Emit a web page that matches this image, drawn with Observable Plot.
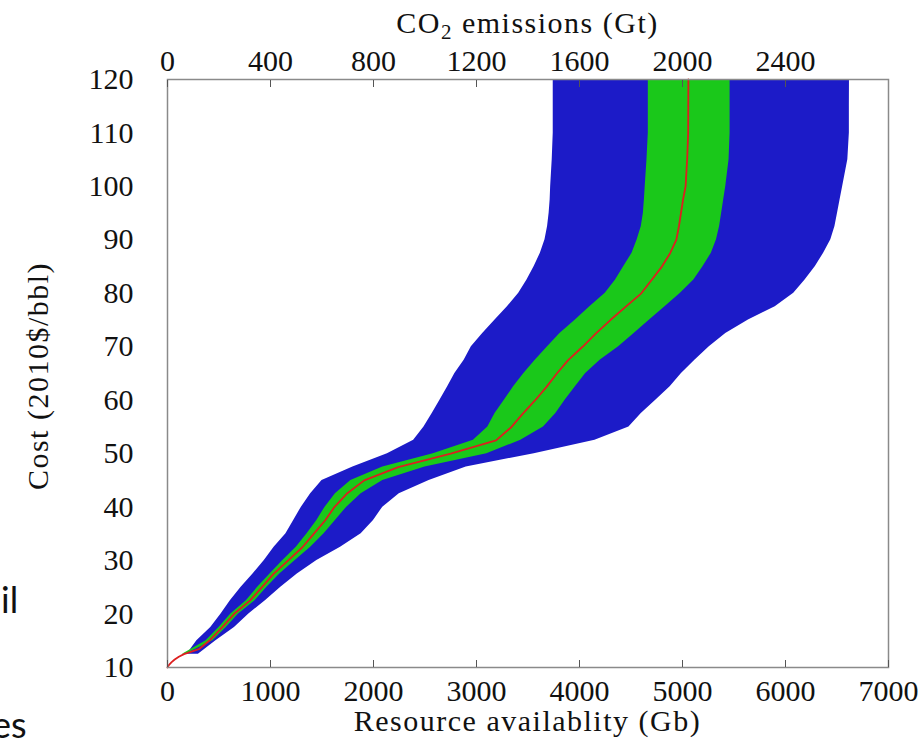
<!DOCTYPE html>
<html>
<head>
<meta charset="utf-8">
<script src="https://cdn.jsdelivr.net/npm/d3@7"></script>
<script src="https://cdn.jsdelivr.net/npm/@observablehq/plot@0.6"></script>
<style>
  html, body { margin: 0; padding: 0; background: #fff; font-family: 'Liberation Serif', serif; }
  #wrap { position: relative; width: 924px; height: 740px; overflow: hidden; }
  #wrap svg text, #wrap svg tspan { font-family: 'Liberation Serif', serif !important; }
  #wrap svg text.stray { font-family: 'Lato', sans-serif !important; }
</style>
</head>
<body>
<div id="wrap"></div>
<script>
// ---- Data ----
// Cost levels (2010$/bbl) at which the band edges were read
const bandCost = [12.5,15,17.5,20,22.5,25,27.5,30,32.5,35,37.5,40,42.5,45,47.5,50,52.5,55,57.5,60,62.5,65,67.5,70,72.5,75,77.5,80,82.5,85,87.5,90,92.5,95,97.5,100,105,110,115,120];
// Outer (blue) band: resource availability (Gb), low and high edges
const blueLow  = [190,285,420,520,610,715,830,940,1035,1150,1225,1300,1390,1500,1800,2135,2390,2490,2570,2645,2720,2790,2880,2950,3060,3180,3300,3410,3490,3560,3620,3665,3690,3705,3715,3720,3735,3745,3745,3745];
const blueHigh = [300,470,650,790,950,1100,1260,1450,1680,1880,2000,2090,2250,2540,2900,3560,4150,4480,4600,4740,4880,4990,5120,5260,5420,5640,5900,6080,6190,6290,6370,6440,6480,6505,6530,6555,6605,6620,6620,6621];
// Inner (green) band
const greenLow  = [145,375,500,615,765,875,995,1120,1250,1355,1450,1530,1630,1780,2090,2580,2970,3110,3180,3270,3360,3460,3570,3690,3810,3960,4100,4250,4350,4430,4510,4560,4600,4620,4630,4638,4655,4668,4668,4668];
const greenHigh = [175,440,570,690,850,965,1090,1240,1390,1520,1630,1740,1880,2090,2500,3100,3430,3650,3770,3860,3960,4060,4200,4380,4530,4680,4830,4980,5110,5200,5280,5330,5360,5380,5400,5420,5452,5462,5462,5462];
// Median (red) curve
const medianCost = [10,10.5,11,11.5,12,12.5,13,13.5,15,17.5,20,22.5,25,27.5,30,32.5,35,37.5,40,42.5,45,47.5,50,52.5,55,57.5,60,62.5,65,67.5,70,72.5,75,77.5,80,82.5,85,87.5,90,92.5,95,97.5,100,105,110,120];
const medianX    = [0,15,40,70,110,160,240,310,405,530,645,800,915,1030,1170,1310,1420,1530,1620,1740,1910,2240,2750,3190,3340,3450,3570,3680,3780,3890,4030,4160,4300,4450,4600,4700,4800,4880,4940,4965,4985,5005,5030,5045,5055,5057];

// Axis ticks
const xTicks = [0,1000,2000,3000,4000,5000,6000,7000];
const yTicks = [10,20,30,40,50,60,70,80,90,100,110,120];
const co2Ticks = [0,400,800,1200,1600,2000,2400];
const gbPerGt = 2.5; // 400 Gt CO2 ↔ 1000 Gb

// ---- Tables built from the arrays ----
const band = bandCost.map((c, i) => ({cost: c, bl: blueLow[i], bh: blueHigh[i], gl: greenLow[i], gh: greenHigh[i]}));
const median = medianCost.map((c, i) => ({cost: c, x: medianX[i]}));

const BLUE = "#1c1bc8", GREEN = "#1ac81a", RED = "#dd1f1f";
const FONT = "Liberation Serif";

const chart = Plot.plot({
  width: 924,
  height: 740,
  marginLeft: 167,
  marginRight: 36,
  marginTop: 79,
  marginBottom: 73,
  style: {fontFamily: FONT, fontSize: "30px", color: "#111", background: "white", overflow: "visible"},
  x: {domain: [0, 7000]},
  y: {domain: [10, 120]},
  marks: [
    Plot.areaX(band, {y: "cost", x1: "bl", x2: "bh", fill: BLUE}),
    Plot.areaX(band, {y: "cost", x1: "gl", x2: "gh", fill: GREEN}),
    Plot.lineX(median, {x: "x", y: "cost", stroke: RED, strokeWidth: 1.8}),
    Plot.frame({stroke: "#8a8a8a", strokeWidth: 1.5}),
    Plot.axisY(yTicks, {anchor: "left", tickSize: 0, tickPadding: 34, label: null, tickFormat: d => String(d)}),
    Plot.axisX(xTicks, {anchor: "bottom", tickSize: -7, tickPadding: 19, label: null, stroke: "#555", tickFormat: d => String(d)}),
    Plot.axisX(co2Ticks.map(t => t * gbPerGt), {anchor: "top", tickSize: -7, tickPadding: 16, label: null, stroke: "#555", tickFormat: d => String(Math.round(d / gbPerGt))})
  ]
});

document.getElementById("wrap").appendChild(chart);

// ---- Titles (with subscript) ----
const svgSel = d3.select(chart);
const cx = (167 + 888) / 2, cy = (79 + 667) / 2;

const topTitle = svgSel.append("text")
  .attr("x", cx).attr("y", 33)
  .attr("text-anchor", "middle")
  .style("font-size", "30px").style("letter-spacing", "1.5px")
  .attr("fill", "#111");
topTitle.append("tspan").text("CO");
topTitle.append("tspan").attr("dy", 6).style("font-size", "21px").text("2");
topTitle.append("tspan").attr("dy", -6).text(" emissions (Gt)");

svgSel.append("text")
  .attr("x", cx).attr("y", 731)
  .attr("text-anchor", "middle")
  .style("font-size", "30px").style("letter-spacing", "1.5px")
  .attr("fill", "#111")
  .text("Resource availablity (Gb)");

svgSel.append("text")
  .attr("transform", `translate(48,${cy + 3}) rotate(-90)`)
  .attr("text-anchor", "middle")
  .style("font-size", "30px").style("letter-spacing", "1.5px")
  .attr("fill", "#111")
  .text("Cost (2010$/bbl)");

// stray slide text fragments at the left edge (cut off in the reference too)
svgSel.append("text").attr("class", "stray").attr("text-anchor", "start").attr("x", 1).attr("y", 613)
  .style("font-size", "36px").attr("fill", "#111").text("il");
svgSel.append("text").attr("class", "stray").attr("text-anchor", "start").attr("x", -8).attr("y", 738)
  .style("font-size", "36px").attr("fill", "#111").text("es");
</script>
</body>
</html>
